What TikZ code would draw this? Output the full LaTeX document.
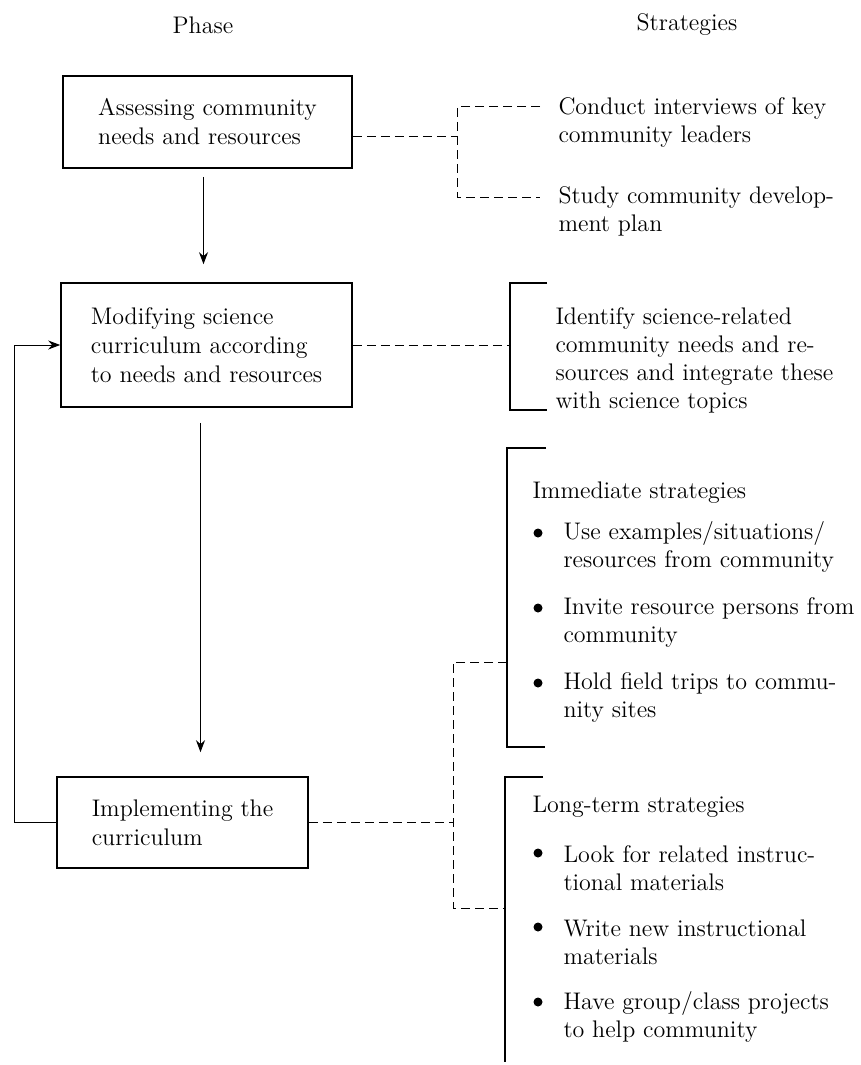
\documentclass[tikz,border=0pt]{standalone}
\usepackage{amsmath,amssymb}
\usepackage{tikz}
\usetikzlibrary{arrows.meta}

\begin{document}
\begin{tikzpicture}[x=0.5pt, y=-0.5pt, line width=0.5pt,
    % --- 样式定义 ---
    phase_box/.style={draw, line width=0.8pt, align=left, inner sep=0pt,
        font=\fontsize{12}{14.5}\selectfont},
    strat_text/.style={anchor=west, align=left, inner sep=0pt,
        font=\fontsize{12}{14}\selectfont},
    head_text/.style={font=\fontsize{12}{14}\selectfont},
    link/.style={dash pattern=on 4.5pt off 2.5pt},
    bracket/.style={line width=0.7pt},
    flow/.style={-{Stealth[length=6pt, width=4.5pt]}},
    dot/.style={circle, fill, inner sep=0pt, minimum size=4.5pt}
]

    \useasboundingbox (0,0) rectangle (861,1065);

    % =========================================
    % 【左列：Phase】 三个阶段框
    % =========================================
    \node[head_text] (phase_head) at (203, 25) {Phase};

    \node[phase_box, minimum width=144.5pt, minimum height=46pt] (assess)
        at (207.5, 122) {Assessing community\\needs and resources};
    \node[phase_box, minimum width=145.5pt, minimum height=62pt] (modify)
        at (206.5, 345) {Modifying science\\curriculum according\\to needs and resources};
    \node[phase_box, minimum width=125.5pt, minimum height=45.5pt] (implement)
        at (182.5, 822.5) {Implementing the\\curriculum};

    % --- 阶段之间的箭头 ---
    \draw[flow, shorten <=4pt, shorten >=9pt] ([xshift=-2pt]assess.south)
        -- ([xshift=-2pt]assess.south |- modify.north);
    \draw[flow, shorten <=7.5pt, shorten >=12pt] ([xshift=-3pt]modify.south)
        -- ([xshift=-3pt]modify.south |- implement.north);

    % 反馈回路 (实施 -> 修改)
    \coordinate (fb_x) at (14, 0);
    \draw[flow] (implement.west) -- (implement.west -| fb_x) |- (modify.west);

    % =========================================
    % 【右列：Strategies】
    % =========================================
    \node[head_text] (strat_head) at (687, 25) {Strategies};

    % --- 1. 文字 ---
    \node[strat_text] (interviews) at (558, 122) {Conduct interviews of key\\community leaders};
    \node[strat_text] (devplan) at (558, 211) {Study community develop-\\ment plan};

    \node[strat_text] (identify) at (555, 360)
        {Identify science-related\\community needs and re-\\sources and integrate these\\with science topics};

    \node[strat_text] (imm_head) at (532, 493) {Immediate strategies};
    \node[strat_text] (imm_1) at (563, 547) {Use examples/situations/\\resources from community};
    \node[strat_text] (imm_2) at (563, 622) {Invite resource persons from\\community};
    \node[strat_text] (imm_3) at (563, 697) {Hold field trips to commu-\\nity sites};

    \node[strat_text] (long_head) at (532, 807) {Long-term strategies};
    \node[strat_text] (long_1) at (563, 868) {Look for related instruc-\\tional materials};
    \node[strat_text] (long_2) at (563, 942) {Write new instructional\\materials};
    \node[strat_text] (long_3) at (563, 1017) {Have group/class projects\\to help community};

    % 圆点
    \foreach \y [count=\i] in {533, 608, 683}
        \node[dot] (imm_dot_\i) at (538, \y) {};
    \foreach \y [count=\i] in {853, 927, 1002}
        \node[dot] (long_dot_\i) at (538, \y) {};

    % --- 2. 括号坐标 ---
    \coordinate (B1_top)     at (457, 107);
    \coordinate (B1_mid)     at (457, 137);
    \coordinate (B1_bot)     at (457, 197);
    \coordinate (B1_top_end) at (540, 107);
    \coordinate (B1_bot_end) at (540, 197);

    \coordinate (B2_top)     at (510, 283);
    \coordinate (B2_top_end) at (547, 283);
    \coordinate (B2_bot)     at (510, 410);
    \coordinate (B2_bot_end) at (547, 410);

    \coordinate (IM_top)     at (507, 448);
    \coordinate (IM_top_end) at (546, 448);
    \coordinate (IM_bot)     at (507, 747);
    \coordinate (IM_bot_end) at (545, 747);

    \coordinate (LT_top)     at (505, 777);
    \coordinate (LT_top_end) at (543, 777);
    \coordinate (LT_bot)     at (505, 1062);

    \coordinate (J_top) at (453, 662); % 汇合线：上
    \coordinate (J_bot) at (453, 908); % 汇合线：下

    % --- 3. 连线 ---
    % 评估 -> 两条策略 (虚线)
    \draw[link] ([yshift=-7.5pt]assess.east) -- (B1_mid);
    \draw[link] (B1_top_end) -- (B1_top) -- (B1_bot) -- (B1_bot_end);

    % 修改 -> 括号
    \draw[link] (modify.east) -- (modify.east -| B2_top);
    \draw[bracket] (B2_top_end) -- (B2_top) -- (B2_bot) -- (B2_bot_end);

    % 实施 -> 近期 / 长期
    \draw[bracket] (IM_top_end) -- (IM_top) -- (IM_bot) -- (IM_bot_end);
    \draw[bracket] (LT_top_end) -- (LT_top) -- (LT_bot);
    \draw[link] (implement.east) -- (implement.east -| J_top);
    \draw[link] (IM_top |- J_top) -- (J_top) -- (J_bot) -- (J_bot -| LT_top);

\end{tikzpicture}
\end{document}
